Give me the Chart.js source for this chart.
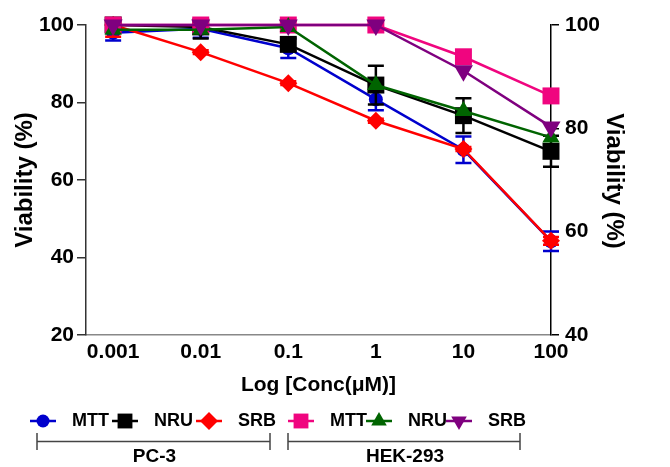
<!DOCTYPE html>
<html>
<head>
<meta charset="utf-8">
<script src="https://cdn.jsdelivr.net/npm/chart.js@4/dist/chart.umd.min.js"></script>
<style>
  html, body { margin: 0; padding: 0; background: #fff; }
  #wrap { width: 670px; height: 467px; position: relative; }
</style>
</head>
<body>
<div id="wrap"><canvas id="myChart" width="670" height="467"></canvas></div>
<script>
// concentrations (log10 of µM) and their tick labels
const logConc = [-3, -2, -1, 0, 1, 2];
const concLabels = ['0.001', '0.01', '0.1', '1', '10', '100'];

// PC-3 viability (%) and SD
const pc3Mtt = [98, 99, 94, 80.8, 67.8, 44.2];
const pc3MttSd = [2, 2.3, 2.5, 2.8, 3.4, 2.5];
const pc3Nru = [100, 99.5, 95, 84.5, 76.6, 67.4];
const pc3NruSd = [0, 3, 1.5, 5, 4.5, 4];
const pc3Srb = [100, 93, 85, 75.3, 68, 44.3];
const pc3SrbSd = [3, 0.5, 0.5, 0.5, 0.5, 1];

// HEK-293 viability (%)
const hekMtt = [100, 100, 100, 100, 91.8, 81.7];
const hekNru = [98.8, 98.8, 99.5, 84.5, 77.8, 71];
const hekSrb = [100, 100, 100, 100, 88.2, 73.7];

const leftTicks = [20, 40, 60, 80, 100];
const rightTicks = [40, 60, 80, 100];

const FONT = '"Liberation Sans", Arial, Helvetica, sans-serif';

function pts(arr) {
  return logConc.map((x, i) => ({x: x, y: arr[i]}));
}

function makeSet(label, group, arr, sd, color, style, radius, rot, order) {
  return {
    label: label,
    group: group,
    data: pts(arr),
    sd: sd,
    borderColor: color,
    backgroundColor: color,
    borderWidth: 2.5,
    pointStyle: style,
    pointRadius: radius,
    pointHoverRadius: radius,
    pointRotation: rot,
    pointBorderWidth: 0,
    clip: false,
    order: order,
    yAxisID: 'y'
  };
}

const datasets = [
  makeSet('MTT', 'PC-3', pc3Mtt, pc3MttSd, '#0000cd', 'circle', 7, 0, 6),
  makeSet('NRU', 'PC-3', pc3Nru, pc3NruSd, '#000000', 'rect', 12, 0, 4),
  makeSet('SRB', 'PC-3', pc3Srb, pc3SrbSd, '#ff0000', 'rectRot', 9, 0, 5),
  makeSet('MTT', 'HEK-293', hekMtt, null, '#f0057f', 'rect', 12, 0, 3),
  makeSet('NRU', 'HEK-293', hekNru, null, '#006400', 'triangle', 10, 0, 2),
  makeSet('SRB', 'HEK-293', hekSrb, null, '#7f007f', 'triangle', 11, 180, 1)
];

// error bars go under each dataset's own markers, cut at the plot top
const errorBars = {
  id: 'errorBars',
  beforeDatasetDraw(chart, args) {
    const ds = chart.data.datasets[args.index];
    if (!ds.sd) return;
    const ctx = chart.ctx;
    const ys = chart.scales[ds.yAxisID];
    const area = chart.chartArea;
    ctx.save();
    ctx.strokeStyle = ds.borderColor;
    ctx.lineWidth = 2.5;
    args.meta.data.forEach((pt, i) => {
      const e = ds.sd[i];
      if (!e) return;
      const v = ds.data[i].y;
      const top = ys.getPixelForValue(v + e);
      const bot = ys.getPixelForValue(v - e);
      ctx.beginPath();
      ctx.moveTo(pt.x, Math.max(top, area.top)); ctx.lineTo(pt.x, bot);
      if (top >= area.top) {
        ctx.moveTo(pt.x - 8, top); ctx.lineTo(pt.x + 8, top);
      }
      ctx.moveTo(pt.x - 8, bot); ctx.lineTo(pt.x + 8, bot);
      ctx.stroke();
    });
    ctx.restore();
  }
};

function marker(ctx, ds, x, y, r) {
  ctx.fillStyle = ds.borderColor;
  ctx.strokeStyle = ds.borderColor;
  Chart.helpers.drawPoint(ctx, {pointStyle: ds.pointStyle, rotation: ds.pointRotation, radius: r, borderWidth: 0}, x, y);
}

// axis titles, legend and group brackets
const extras = {
  id: 'extras',
  afterDraw(chart) {
    const ctx = chart.ctx;
    const area = chart.chartArea;
    ctx.save();
    ctx.fillStyle = '#000';
    ctx.textAlign = 'center';
    ctx.textBaseline = 'middle';

    ctx.font = 'bold 21px ' + FONT;
    ctx.fillText('Log [Conc(μM)]', (area.left + area.right) / 2, 385);

    ctx.font = 'bold 24px ' + FONT;
    ctx.save();
    ctx.translate(25, 180);
    ctx.rotate(-Math.PI / 2);
    ctx.fillText('Viability (%)', 0, 0);
    ctx.restore();
    ctx.save();
    ctx.translate(614, 181);
    ctx.rotate(Math.PI / 2);
    ctx.fillText('Viability (%)', 0, 0);
    ctx.restore();

    // legend rows
    const lx = [30, 112, 196, 288, 366, 446];
    const ly = 421;
    ctx.font = 'bold 18px ' + FONT;
    ctx.textAlign = 'left';
    chart.data.datasets.forEach((ds, i) => {
      ctx.strokeStyle = ds.borderColor;
      ctx.lineWidth = 2.5;
      ctx.beginPath();
      ctx.moveTo(lx[i], ly); ctx.lineTo(lx[i] + 26, ly);
      ctx.stroke();
      const r = ds.pointStyle === 'circle' ? 6.5 : ds.pointStyle === 'rect' ? 10.5 : 9;
      marker(ctx, ds, lx[i] + 13, ly, r);
      ctx.fillStyle = '#000';
      ctx.fillText(ds.label, lx[i] + 42, ly);
    });

    // brackets under the legend
    const groups = [['PC-3', 37, 270], ['HEK-293', 288, 520]];
    ctx.strokeStyle = '#444';
    ctx.lineWidth = 1.5;
    ctx.textAlign = 'center';
    ctx.font = 'bold 19px ' + FONT;
    groups.forEach(g => {
      ctx.beginPath();
      ctx.moveTo(g[1], 433); ctx.lineTo(g[1], 450);
      ctx.moveTo(g[2], 433); ctx.lineTo(g[2], 450);
      ctx.moveTo(g[1], 441.5); ctx.lineTo(g[2], 441.5);
      ctx.stroke();
      ctx.fillText(g[0], (g[1] + g[2]) / 2 + 1, 457);
    });
    ctx.restore();
  }
};

const config = {
  type: 'line',
  data: {datasets: datasets},
  options: {
    responsive: false,
    animation: false,
    events: [],
    layout: {padding: {top: 25, left: 0, right: 0, bottom: 0}},
    plugins: {legend: {display: false}, tooltip: {enabled: false}},
    scales: {
      x: {
        type: 'linear',
        min: -3.31,
        max: 2,
        afterBuildTicks: scale => { scale.ticks = logConc.map(v => ({value: v})); },
        afterFit: scale => { scale.height = 132; },
        ticks: {
          callback: v => concLabels[logConc.indexOf(v)],
          color: '#000',
          font: {family: FONT, size: 21, weight: 'bold'},
          padding: 5,
          maxRotation: 0,
          autoSkip: false
        },
        grid: {display: false, drawTicks: false},
        border: {color: '#888', width: 1.5}
      },
      y: {
        position: 'left',
        min: 20,
        max: 100,
        afterBuildTicks: scale => { scale.ticks = leftTicks.map(v => ({value: v})); },
        afterFit: scale => { scale.width = 86; },
        ticks: {color: '#000', font: {family: FONT, size: 21, weight: 'bold'}, padding: 3},
        grid: {drawOnChartArea: false, drawTicks: true, tickLength: 9, color: '#333', lineWidth: 1.5},
        border: {color: '#333', width: 1.5}
      },
      y2: {
        position: 'right',
        min: 40,
        max: 100,
        afterBuildTicks: scale => { scale.ticks = rightTicks.map(v => ({value: v})); },
        afterFit: scale => { scale.width = 119; },
        ticks: {color: '#000', font: {family: FONT, size: 21, weight: 'bold'}, padding: 6},
        grid: {drawOnChartArea: false, drawTicks: true, tickLength: 8, color: '#000', lineWidth: 1.5},
        border: {color: '#000', width: 1.5}
      }
    }
  },
  plugins: [errorBars, extras]
};

new Chart(document.getElementById('myChart'), config);
</script>
</body>
</html>
